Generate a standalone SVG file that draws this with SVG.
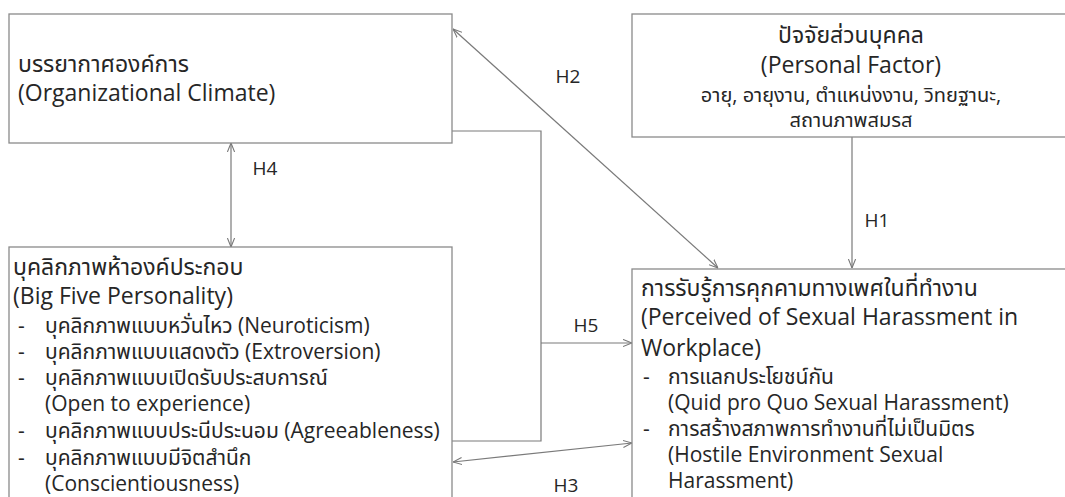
<svg xmlns="http://www.w3.org/2000/svg" width="1065" height="497" viewBox="0 0 1065 497">
<defs>
<marker id="arr" viewBox="0 0 10 10" refX="10" refY="5" markerWidth="9" markerHeight="9" markerUnits="userSpaceOnUse" orient="auto-start-reverse">
<path d="M0,1 L10,5 L0,9" fill="none" stroke="#777" stroke-width="1.2"/>
</marker>
<style>
.box{fill:#fff;stroke:#8a8a8a;stroke-width:1.3}
.ln{fill:none;stroke:#7a7a7a;stroke-width:1.2}
text{font-family:"Open Sans","Noto Sans Thai","Noto Sans",sans-serif;fill:#262626}
.t{font-size:23px}
.l{font-size:21px}
.s{font-size:20px}
.h{font-size:19px;text-anchor:middle}
.c{text-anchor:middle}
</style>
</defs>
<rect width="1065" height="497" fill="#fff"/>
<g id="connectors">
<line class="ln" x1="231" y1="143" x2="231" y2="247" marker-start="url(#arr)" marker-end="url(#arr)"/>
<line class="ln" x1="453" y1="29" x2="718" y2="268" marker-start="url(#arr)" marker-end="url(#arr)"/>
<line class="ln" x1="852" y1="137" x2="852" y2="268" marker-end="url(#arr)"/>
<polyline class="ln" points="452,131 541,131 541,441 452,441"/>
<line class="ln" x1="541" y1="343" x2="632" y2="343" marker-end="url(#arr)"/>
<line class="ln" x1="453" y1="462" x2="632" y2="443" marker-start="url(#arr)" marker-end="url(#arr)"/>
<text class="h" x="568" y="83">H2</text>
<text class="h" x="265" y="175">H4</text>
<text class="h" x="877" y="227">H1</text>
<text class="h" x="586" y="332">H5</text>
<text class="h" x="566" y="492">H3</text>
</g>
<g id="org-climate">
<rect class="box" x="9" y="14" width="443" height="129"/>
<text class="t" x="18" y="72">บรรยากาศองค์การ</text>
<text class="t" x="18" y="101">(Organizational Climate)</text>
</g>
<g id="personal-factor">
<rect class="box" x="632" y="14" width="440" height="123"/>
<text class="t c" x="851" y="43">ปัจจัยส่วนบุคคล</text>
<text class="t c" x="851" y="73">(Personal Factor)</text>
<text class="s c" x="851" y="102">อายุ, อายุงาน, ตำแหน่งงาน, วิทยฐานะ,</text>
<text class="s c" x="851" y="127">สถานภาพสมรส</text>
</g>
<g id="big-five">
<rect class="box" x="9" y="247" width="443" height="260"/>
<text class="t" x="13" y="275">บุคลิกภาพห้าองค์ประกอบ</text>
<text class="t" x="13" y="304">(Big Five Personality)</text>
<g class="l">
<text x="18" y="333">-</text><text x="45" y="333">บุคลิกภาพแบบหวั่นไหว (Neuroticism)</text>
<text x="18" y="359">-</text><text x="45" y="359">บุคลิกภาพแบบแสดงตัว (Extroversion)</text>
<text x="18" y="385">-</text><text x="45" y="385">บุคลิกภาพแบบเปิดรับประสบการณ์</text>
<text x="45" y="411">(Open to experience)</text>
<text x="18" y="438">-</text><text x="45" y="438">บุคลิกภาพแบบประนีประนอม (Agreeableness)</text>
<text x="18" y="465">-</text><text x="45" y="465">บุคลิกภาพแบบมีจิตสำนึก</text>
<text x="45" y="491">(Conscientiousness)</text>
</g>
</g>
<g id="sexual-harassment">
<rect class="box" x="632" y="269" width="440" height="240"/>
<text class="t" x="641" y="296">การรับรู้การคุกคามทางเพศในที่ทำงาน</text>
<text class="t" x="641" y="325">(Perceived of Sexual Harassment in</text>
<text class="t" x="641" y="356">Workplace)</text>
<g class="l">
<text x="643" y="384">-</text><text x="668" y="384">การแลกประโยชน์กัน</text>
<text x="668" y="410">(Quid pro Quo Sexual Harassment)</text>
<text x="643" y="436">-</text><text x="668" y="436">การสร้างสภาพการทำงานที่ไม่เป็นมิตร</text>
<text x="668" y="462">(Hostile Environment Sexual</text>
<text x="668" y="488">Harassment)</text>
</g>
</g>
</svg>
